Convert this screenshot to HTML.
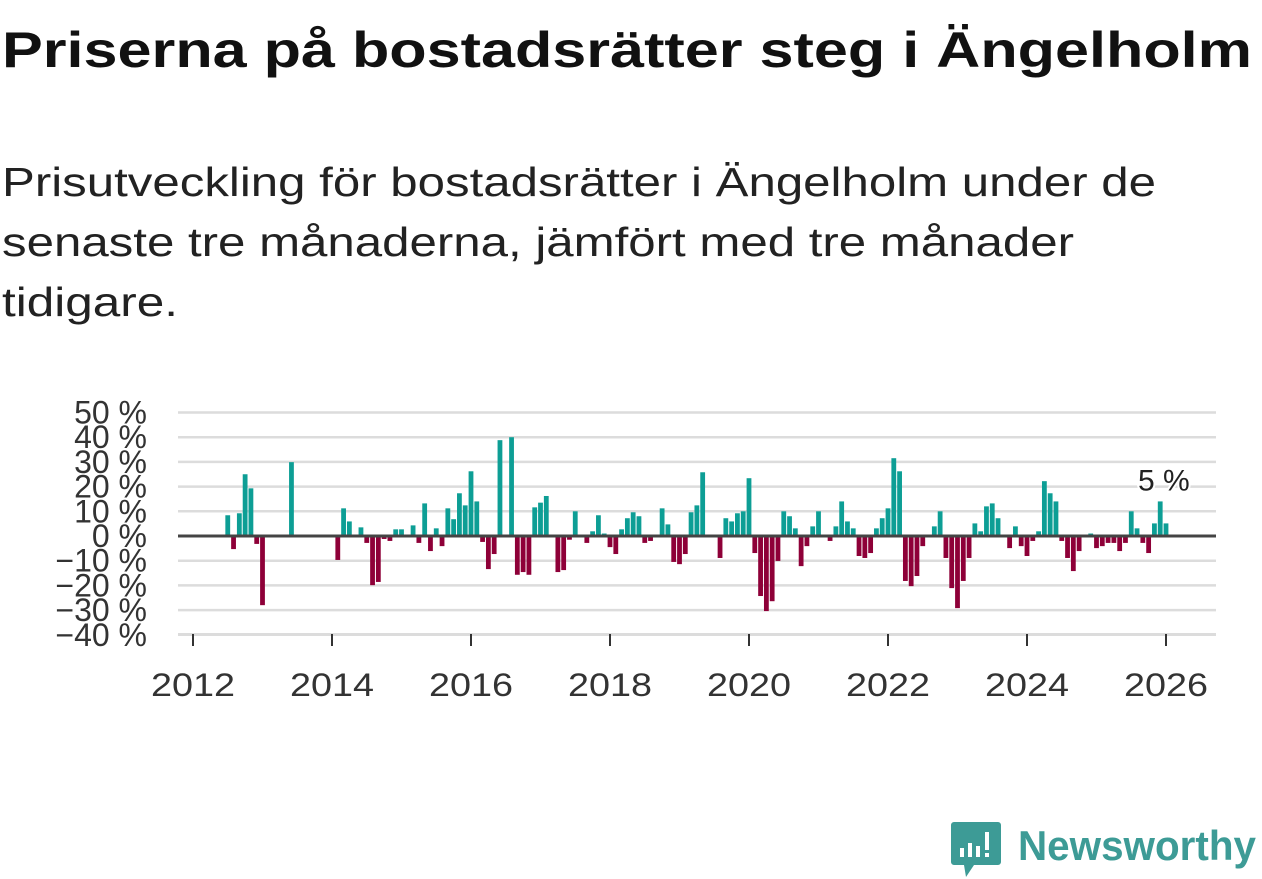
<!DOCTYPE html>
<html><head><meta charset="utf-8"><style>
html,body{margin:0;padding:0;background:#fff;}
svg{display:block;font-family:"Liberation Sans",sans-serif;}
</style></head><body>
<svg id="chart" width="1262" height="879" viewBox="0 0 1262 879">
<text x="2" y="67" font-size="50" font-weight="bold" fill="#111" textLength="1250" lengthAdjust="spacingAndGlyphs">Priserna på bostadsrätter steg i Ängelholm</text>
<g fill="#222" font-size="41">
<text x="2" y="196" textLength="1154" lengthAdjust="spacingAndGlyphs">Prisutveckling för bostadsrätter i Ängelholm under de</text>
<text x="2" y="256" textLength="1072" lengthAdjust="spacingAndGlyphs">senaste tre månaderna, jämfört med tre månader</text>
<text x="2" y="316" textLength="176" lengthAdjust="spacingAndGlyphs">tidigare.</text>
</g>
<g id="grid"></g>
<g id="yaxis"></g>
<g id="bars"></g>
<g id="xaxis"></g>
<g>
<path d="M954 822 h44 a3 3 0 0 1 3 3 v37 a3 3 0 0 1 -3 3 h-24 l-8 12 l-2 -12 h-10 a3 3 0 0 1 -3 -3 v-37 a3 3 0 0 1 3 -3z" fill="#3d9b96"/>
<rect x="960" y="848" width="4" height="9" fill="#fff"/><rect x="968" y="843" width="4" height="14" fill="#fff"/><rect x="976" y="846" width="4" height="11" fill="#fff"/><rect x="985" y="832" width="4" height="18" fill="#fff"/><rect x="985" y="853" width="4" height="4" fill="#fff"/>
<text x="1018" y="860" font-size="42" font-weight="bold" fill="#3d9b96" textLength="238" lengthAdjust="spacingAndGlyphs">Newsworthy</text>
</g>
</svg>
<script>
const months = ["2012-07","2012-08","2012-09","2012-10","2012-11","2012-12","2013-01","2013-06","2014-02","2014-03","2014-04","2014-06","2014-07","2014-08","2014-09","2014-10","2014-11","2014-12","2015-01","2015-03","2015-04","2015-05","2015-06","2015-07","2015-08","2015-09","2015-10","2015-11","2015-12","2016-01","2016-02","2016-03","2016-04","2016-05","2016-06","2016-08","2016-09","2016-10","2016-11","2016-12","2017-01","2017-02","2017-04","2017-05","2017-06","2017-07","2017-09","2017-10","2017-11","2017-12","2018-01","2018-02","2018-03","2018-04","2018-05","2018-06","2018-07","2018-08","2018-10","2018-11","2018-12","2019-01","2019-02","2019-03","2019-04","2019-05","2019-08","2019-09","2019-10","2019-11","2019-12","2020-01","2020-02","2020-03","2020-04","2020-05","2020-06","2020-07","2020-08","2020-09","2020-10","2020-11","2020-12","2021-01","2021-03","2021-04","2021-05","2021-06","2021-07","2021-08","2021-09","2021-10","2021-11","2021-12","2022-01","2022-02","2022-03","2022-04","2022-05","2022-06","2022-07","2022-09","2022-10","2022-11","2022-12","2023-01","2023-02","2023-03","2023-04","2023-05","2023-06","2023-07","2023-08","2023-10","2023-11","2023-12","2024-01","2024-02","2024-03","2024-04","2024-05","2024-06","2024-07","2024-08","2024-09","2024-10","2024-12","2025-01","2025-02","2025-03","2025-04","2025-05","2025-06","2025-07","2025-08","2025-09","2025-10","2025-11","2025-12","2026-01"];
const values = [8.4,-5.3,9.2,25,19.3,-3.2,-28,29.9,-9.7,11.2,5.9,3.5,-2.8,-19.9,-18.6,-1.2,-2,2.7,2.7,4.3,-2.8,13.2,-6.1,3.1,-4.1,11.2,6.8,17.3,12.4,26.2,14,-2.4,-13.4,-7.3,38.8,40,-15.7,-14.6,-15.7,11.6,13.5,16.2,-14.6,-13.8,-1.5,10,-2.8,1.9,8.4,1,-4.5,-7.3,2.7,7.2,9.6,8,-2.8,-2,11.2,4.7,-10.5,-11.4,-7.3,9.6,12.4,25.8,-8.9,7.2,5.9,9.2,10,23.4,-6.9,-24.3,-30.4,-26.4,-10.1,10,8,3.1,-12.2,-4.1,3.9,10,-2,3.9,14,5.9,3.1,-8.1,-8.9,-6.9,3.1,7.2,11.2,31.5,26.2,-18.2,-20.3,-16.2,-4.1,3.9,10,-8.9,-21.1,-29.2,-18.2,-8.9,5.1,1.9,12,13.2,7.2,-4.9,3.9,-4.1,-8.1,-2,1.9,22.2,17.3,14,-2,-8.9,-14.2,-6.1,1,-4.9,-4.1,-2.8,-2.8,-6.1,-2.8,10,3.1,-2.8,-6.9,5.1,14,5.1];
const yTicks = [50,40,30,20,10,0,-10,-20,-30,-40];
const xTicks = [2012,2014,2016,2018,2020,2022,2024,2026];
const lastLabel = "5 %";

const NS="http://www.w3.org/2000/svg";
const X0=193, YEARW=69.5, Y0=536, PER=2.47;
const xs = t => X0 + (t-2012)*YEARW;
const xm = s => { const [y,m]=s.split("-").map(Number); return xs(y+(m-1)/12); };
const ys = v => Y0 - v*PER;
function mk(tag, attrs, parent){const e=document.createElementNS(NS,tag);for(const k in attrs)e.setAttribute(k,attrs[k]);parent.appendChild(e);return e;}
const grid=document.getElementById('grid'), yax=document.getElementById('yaxis'), bars=document.getElementById('bars'), xax=document.getElementById('xaxis');
yTicks.forEach(v=>{
  if(v!==0){const l=mk('line',{x1:178,x2:1216,y1:ys(v),y2:ys(v),stroke:'#dcdcdc','stroke-width':2.5},grid);
  
  }
  const t=mk('text',{x:147,y:ys(v)+11,'text-anchor':'end','font-size':32,fill:'#333'},yax);
  t.textContent=(v<0?'\u2212'+(-v):v)+' %';
  
  
});
months.forEach((m,i)=>{
  const v=values[i], x=xm(m);
  const r=mk('rect',{x:x-2.4,width:4.8,y:Math.min(ys(v),Y0),height:Math.abs(ys(v)-Y0),fill:v>=0?'#0d9e95':'#8e0038'},bars);
  
  
});
const z=mk('line',{x1:178,x2:1216,y1:Y0,y2:Y0,stroke:'#444','stroke-width':3},bars);


const li=months.length-1;
const lb=mk('text',{x:xm(months[li])-28,y:ys(values[li])-33,'font-size':30,fill:'#222',stroke:'#fff','stroke-width':4,'paint-order':'stroke'},bars);
lb.textContent=lastLabel;


const base=mk('line',{x1:178,x2:1216,y1:634,y2:634,stroke:'#dcdcdc','stroke-width':2},xax);


xTicks.forEach(t=>{
  const tk=mk('line',{x1:xs(t),x2:xs(t),y1:634,y2:646,stroke:'#333','stroke-width':2},xax);
  
  
  const tl=mk('text',{x:xs(t)-42,y:696,'font-size':32,fill:'#333',textLength:84,lengthAdjust:'spacingAndGlyphs'},xax);
  tl.textContent=t;
  
  
});
</script>
</body></html>
